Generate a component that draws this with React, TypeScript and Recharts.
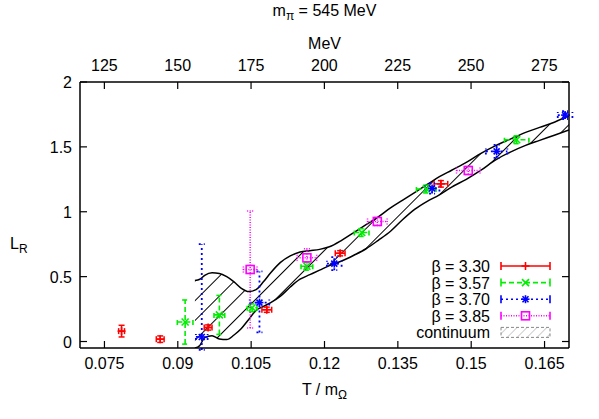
import React from 'react';
import { ComposedChart, Area, Scatter, ErrorBar, XAxis, YAxis, Legend } from 'recharts';

// Omega baryon mass used for the MeV axis
const M_OMEGA = 1667;

const X_DOMAIN = [0.07, 0.17];
const Y_DOMAIN = [-0.05, 2];
const X_TICKS = [0.075, 0.09, 0.105, 0.12, 0.135, 0.15, 0.165];
const MEV_TICKS = [125, 150, 175, 200, 225, 250, 275];
const Y_TICKS = [0, 0.5, 1, 1.5, 2];

// lattice data, one array per beta
const beta330 = [
  { x: 0.0785, y: 0.08, ex: 0.0006, ey: 0.045 },
  { x: 0.0864, y: 0.018, ex: 0.0008, ey: 0.025 },
  { x: 0.0962, y: 0.108, ex: 0.0008, ey: 0.02 },
  { x: 0.1082, y: 0.245, ex: 0.001, ey: 0.02 },
  { x: 0.1232, y: 0.68, ex: 0.001, ey: 0.02 },
  { x: 0.1438, y: 1.215, ex: 0.0014, ey: 0.025 },
];
const beta357 = [
  { x: 0.0915, y: 0.15, ex: 0.0016, ey: 0.17 },
  { x: 0.0985, y: 0.205, ex: 0.0011, ey: 0.15 },
  { x: 0.1052, y: 0.26, ex: 0.001, ey: 0.03 },
  { x: 0.1164, y: 0.58, ex: 0.0012, ey: 0.03 },
  { x: 0.1276, y: 0.84, ex: 0.0015, ey: 0.03 },
  { x: 0.1408, y: 1.175, ex: 0.002, ey: 0.03 },
  { x: 0.1593, y: 1.555, ex: 0.0025, ey: 0.03 },
];
const beta370 = [
  { x: 0.0949, y: 0.035, ex: 0.0012, ey: [0.1, 0.715] },
  { x: 0.1067, y: 0.3, ex: 0.002, ey: [0.23, 0.24] },
  { x: 0.122, y: 0.6, ex: 0.0015, ey: 0.05 },
  { x: 0.142, y: 1.18, ex: 0.0015, ey: 0.04 },
  { x: 0.1552, y: 1.465, ex: 0.0022, ey: 0.05 },
  { x: 0.1692, y: 1.745, ex: 0.0015, ey: 0.03 },
];
const beta385 = [
  { x: 0.1048, y: 0.555, ex: 0.0014, ey: 0.45 },
  { x: 0.1164, y: 0.645, ex: 0.002, ey: 0.07 },
  { x: 0.1308, y: 0.925, ex: 0.002, ey: 0.03 },
  { x: 0.1494, y: 1.318, ex: 0.0024, ey: 0.03 },
];

// continuum band
const BAND_X = [
  0.0935, 0.0945, 0.0955, 0.097, 0.0985, 0.1, 0.1015, 0.103, 0.1045, 0.106, 0.1075, 0.109,
  0.111, 0.113, 0.115, 0.117, 0.119, 0.121, 0.1235, 0.126, 0.1285, 0.131, 0.1335, 0.136,
  0.1385, 0.141, 0.1435, 0.146, 0.149, 0.152, 0.155, 0.158, 0.161, 0.164, 0.167, 0.17,
];
const BAND_LO = [
  -0.05, -0.03, 0.03, 0.045, 0.02, 0.015, 0.05, 0.1, 0.17, 0.24, 0.27, 0.3,
  0.35, 0.42, 0.48, 0.515, 0.55, 0.585, 0.62, 0.665, 0.715, 0.78, 0.85, 0.94,
  1.02, 1.08, 1.13, 1.19, 1.25, 1.32, 1.4, 1.46, 1.51, 1.55, 1.59, 1.63,
];
const BAND_HI = [
  0.47, 0.48, 0.51, 0.53, 0.525, 0.5, 0.46, 0.41, 0.385, 0.4, 0.46, 0.53,
  0.61, 0.66, 0.69, 0.7, 0.71, 0.73, 0.78, 0.84, 0.9, 0.96, 1.03, 1.09,
  1.15, 1.21, 1.27, 1.32, 1.38, 1.45, 1.51, 1.56, 1.61, 1.65, 1.69, 1.74,
];

const bandData = BAND_X.map((x, i) => ({ x, band: [BAND_LO[i], BAND_HI[i]] }));

const RED = '#ff0000';
const GREEN = '#00ee00';
const BLUE = '#0000ff';
const MAGENTA = '#ff00ff';
const FONT = 16;
const TICK = 7;

const Plus = ({ cx, cy, color }: any) => (
  <g stroke={color} strokeWidth={1.6}>
    <line x1={cx - 4} y1={cy} x2={cx + 4} y2={cy} />
    <line x1={cx} y1={cy - 4} x2={cx} y2={cy + 4} />
  </g>
);
const Cross = ({ cx, cy, color }: any) => (
  <g stroke={color} strokeWidth={1.6}>
    <line x1={cx - 3.5} y1={cy - 3.5} x2={cx + 3.5} y2={cy + 3.5} />
    <line x1={cx - 3.5} y1={cy + 3.5} x2={cx + 3.5} y2={cy - 3.5} />
  </g>
);
const Star = ({ cx, cy, color }: any) => (
  <g stroke={color} strokeWidth={1.6}>
    <line x1={cx - 4} y1={cy} x2={cx + 4} y2={cy} />
    <line x1={cx} y1={cy - 4} x2={cx} y2={cy + 4} />
    <line x1={cx - 3} y1={cy - 3} x2={cx + 3} y2={cy + 3} />
    <line x1={cx - 3} y1={cy + 3} x2={cx + 3} y2={cy - 3} />
  </g>
);
const Box = ({ cx, cy, color }: any) => (
  <rect x={cx - 4} y={cy - 4} width={8} height={8} fill="none" stroke={color} strokeWidth={1.6} />
);

const BottomTick = ({ x, y, payload }: any) => (
  <g>
    <line x1={x} y1={y} x2={x} y2={y - TICK} stroke="#000" strokeWidth={1.2} />
    <text x={x} y={y + 21} textAnchor="middle" fontSize={FONT} fill="#000">
      {String(payload.value)}
    </text>
  </g>
);
const TopTick = ({ x, y, payload }: any) => (
  <g>
    <line x1={x} y1={y} x2={x} y2={y + TICK} stroke="#000" strokeWidth={1.2} />
    <text x={x} y={y - 11} textAnchor="middle" fontSize={FONT} fill="#000">
      {Math.round(payload.value * M_OMEGA)}
    </text>
  </g>
);
const LeftTick = ({ x, y, payload }: any) => (
  <g>
    <line x1={x} y1={y} x2={x + TICK} y2={y} stroke="#000" strokeWidth={1.2} />
    <text x={x - 8} y={y + 6} textAnchor="end" fontSize={FONT} fill="#000">
      {String(payload.value)}
    </text>
  </g>
);
const RightTick = ({ x, y }: any) => (
  <line x1={x} y1={y} x2={x - TICK} y2={y} stroke="#000" strokeWidth={1.2} />
);

const BottomLabel = ({ viewBox }: any) => (
  <text x={viewBox.x + viewBox.width / 2} y={viewBox.y + 47} textAnchor="middle" fontSize={FONT} fill="#000">
    T / m<tspan dy={4} fontSize={12}>Ω</tspan>
  </text>
);
const TopLabel = ({ viewBox }: any) => {
  const cx = viewBox.x + viewBox.width / 2;
  const top = viewBox.y + viewBox.height;
  return (
    <g>
      <text x={cx} y={top - 33} textAnchor="middle" fontSize={FONT} fill="#000">MeV</text>
      <text x={cx} y={top - 66} textAnchor="middle" fontSize={FONT} fill="#000">
        m<tspan dy={4} fontSize={12}>π</tspan>
        <tspan dy={-4}> = 545 MeV</tspan>
      </text>
    </g>
  );
};
const LeftLabel = ({ viewBox }: any) => (
  <text x={viewBox.x - 10} y={viewBox.y + viewBox.height / 2 + 34} fontSize={FONT} fill="#000">
    L<tspan dy={4} fontSize={12}>R</tspan>
  </text>
);

const LEGEND = [
  { label: 'β = 3.30', color: RED, dash: undefined, mark: Plus },
  { label: 'β = 3.57', color: GREEN, dash: '5 3', mark: Cross },
  { label: 'β = 3.70', color: BLUE, dash: '2 3', mark: Star },
  { label: 'β = 3.85', color: MAGENTA, dash: '1 1.5', mark: Box },
];

const renderLegend = () => (
  <svg width={180} height={90} style={{ overflow: 'visible', fontFamily: 'inherit' }}>
    <defs>
      <pattern id="hatchKey" patternUnits="userSpaceOnUse" width="7" height="7" patternTransform="rotate(45)">
        <line x1="0" y1="0" x2="0" y2="7" stroke="#999" strokeWidth="1" />
      </pattern>
    </defs>
    {LEGEND.map((item, i) => {
      const cy = 10 + i * 16.6;
      const Mark = item.mark;
      return (
        <g key={item.label}>
          <text x={110} y={cy + 6} textAnchor="end" fontSize={FONT} fill="#000">{item.label}</text>
          <g stroke={item.color} strokeWidth={1.6} strokeDasharray={item.dash}>
            <line x1={121} y1={cy} x2={170} y2={cy} />
          </g>
          <g stroke={item.color} strokeWidth={1.6}>
            <line x1={121} y1={cy - 4} x2={121} y2={cy + 4} />
            <line x1={170} y1={cy - 4} x2={170} y2={cy + 4} />
          </g>
          <Mark cx={145.5} cy={cy} color={item.color} />
        </g>
      );
    })}
    <text x={110} y={10 + 4 * 16.6 + 6} textAnchor="end" fontSize={FONT} fill="#000">continuum</text>
    <rect x={121} y={10 + 4 * 16.6 - 5} width={49} height={10} fill="url(#hatchKey)" stroke="#888" strokeWidth={1} strokeDasharray="3 2" />
  </svg>
);

export default function App() {
  return (
    <div style={{ position: 'absolute', left: 0, top: 0, fontFamily: '"Liberation Sans", Arial, sans-serif', background: '#fff' }}>
      <ComposedChart
        width={599}
        height={419}
        data={bandData}
        margin={{ top: 42, right: 20, bottom: 31, left: 20 }}
      >
        <defs>
          <pattern id="hatch" patternUnits="userSpaceOnUse" width="14" height="14" patternTransform="rotate(45)">
            <line x1="0" y1="0" x2="0" y2="14" stroke="#000" strokeWidth="2" />
          </pattern>
        </defs>
        <XAxis
          xAxisId="bottom"
          dataKey="x"
          type="number"
          orientation="bottom"
          domain={X_DOMAIN}
          ticks={X_TICKS}
          interval={0}
          allowDataOverflow
          height={40}
          tickSize={0}
          tickMargin={0}
          tickLine={false}
          tick={<BottomTick />}
          axisLine={{ stroke: '#000', strokeWidth: 1.5 }}
          label={{ content: BottomLabel }}
        />
        <XAxis
          xAxisId="top"
          dataKey="x"
          type="number"
          orientation="top"
          domain={X_DOMAIN}
          ticks={MEV_TICKS.map((m) => m / M_OMEGA)}
          interval={0}
          allowDataOverflow
          height={40}
          tickSize={0}
          tickMargin={0}
          tickLine={false}
          tick={<TopTick />}
          axisLine={{ stroke: '#000', strokeWidth: 1.5 }}
          label={{ content: TopLabel }}
        />
        <YAxis
          yAxisId="left"
          type="number"
          domain={Y_DOMAIN}
          ticks={Y_TICKS}
          interval={0}
          allowDataOverflow
          width={60}
          tickSize={0}
          tickMargin={0}
          tickLine={false}
          tick={<LeftTick />}
          axisLine={{ stroke: '#000', strokeWidth: 1.5 }}
          label={{ content: LeftLabel }}
        />
        <YAxis
          yAxisId="right"
          orientation="right"
          type="number"
          domain={Y_DOMAIN}
          ticks={Y_TICKS}
          interval={0}
          allowDataOverflow
          width={10}
          tickSize={0}
          tickMargin={0}
          tickLine={false}
          tick={<RightTick />}
          axisLine={{ stroke: '#000', strokeWidth: 1.5 }}
        />
        <Area
          xAxisId="bottom"
          yAxisId="left"
          type="monotone"
          dataKey="band"
          stroke="#000"
          strokeWidth={1.5}
          fill="url(#hatch)"
          fillOpacity={1}
          isAnimationActive={false}
          dot={false}
          activeDot={false}
        />
        <Scatter xAxisId="bottom" yAxisId="left" data={beta330} dataKey="y" isAnimationActive={false}
          shape={(p: any) => <Plus cx={p.cx} cy={p.cy} color={RED} />}>
          <ErrorBar dataKey="ey" direction="y" width={3} stroke={RED} strokeWidth={1.5} />
          <ErrorBar dataKey="ex" direction="x" width={3} stroke={RED} strokeWidth={1.5} />
        </Scatter>
        <Scatter xAxisId="bottom" yAxisId="left" data={beta357} dataKey="y" isAnimationActive={false}
          shape={(p: any) => <Cross cx={p.cx} cy={p.cy} color={GREEN} />}>
          <ErrorBar dataKey="ey" direction="y" width={3} stroke={GREEN} strokeWidth={1.6} strokeDasharray="5 3" />
          <ErrorBar dataKey="ex" direction="x" width={3} stroke={GREEN} strokeWidth={1.6} strokeDasharray="5 3" />
        </Scatter>
        <Scatter xAxisId="bottom" yAxisId="left" data={beta370} dataKey="y" isAnimationActive={false}
          shape={(p: any) => <Star cx={p.cx} cy={p.cy} color={BLUE} />}>
          <ErrorBar dataKey="ey" direction="y" width={3} stroke={BLUE} strokeWidth={1.8} strokeDasharray="2 3" />
          <ErrorBar dataKey="ex" direction="x" width={3} stroke={BLUE} strokeWidth={1.8} strokeDasharray="2 3" />
        </Scatter>
        <Scatter xAxisId="bottom" yAxisId="left" data={beta385} dataKey="y" isAnimationActive={false}
          shape={(p: any) => <Box cx={p.cx} cy={p.cy} color={MAGENTA} />}>
          <ErrorBar dataKey="ey" direction="y" width={3} stroke={MAGENTA} strokeWidth={1.5} strokeDasharray="1 1.5" />
          <ErrorBar dataKey="ex" direction="x" width={3} stroke={MAGENTA} strokeWidth={1.5} strokeDasharray="1 1.5" />
        </Scatter>
        <Legend
          layout="horizontal"
          align="center"
          verticalAlign="middle"
          content={renderLegend}
          wrapperStyle={{ left: 380, top: 256, width: 180, height: 90, bottom: 'auto', right: 'auto' }}
        />
      </ComposedChart>
    </div>
  );
}
